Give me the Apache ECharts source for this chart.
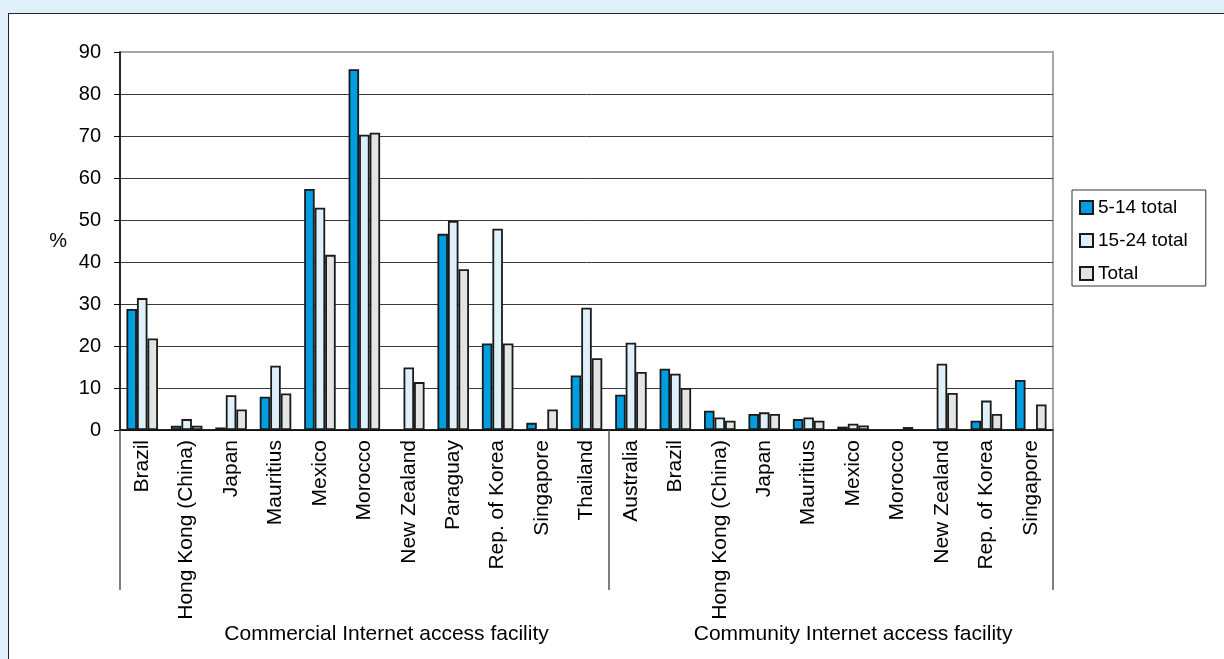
<!DOCTYPE html>
<html>
<head>
<meta charset="utf-8">
<script src="https://cdn.jsdelivr.net/npm/echarts@6/dist/echarts.min.js"></script>
<style>
  * { margin: 0; padding: 0; }
  body { background: #dff0fa; width: 1224px; height: 659px; overflow: hidden; }
  .frame {
    position: absolute; left: 8px; top: 13px;
    border-left: 1px solid #222; border-top: 1px solid #222;
    background: #fff;
  }
  #main { width: 1215px; height: 645px; }
</style>
</head>
<body>
<div class="frame"><div id="main"></div></div>
<script>
  // categories: 11 commercial + 10 community facilities
  var categories = [
    'Brazil', 'Hong Kong (China)', 'Japan', 'Mauritius', 'Mexico', 'Morocco',
    'New Zealand', 'Paraguay', 'Rep. of Korea', 'Singapore', 'Thailand',
    'Australia', 'Brazil', 'Hong Kong (China)', 'Japan', 'Mauritius', 'Mexico',
    'Morocco', 'New Zealand', 'Rep. of Korea', 'Singapore'
  ];
  var groups = ['Commercial Internet access facility', 'Community Internet access facility'];
  var yTicks = [0, 10, 20, 30, 40, 50, 60, 70, 80, 90];

  var age5to14 = [28.8, 1.0, 0.6, 7.9, 57.4, 85.9, null, 46.7, 20.6, 1.7, 13.0,
                  8.4, 14.6, 4.6, 3.8, 2.6, 0.8, null, null, 2.2, 11.9];
  var age15to24 = [31.4, 2.6, 8.3, 15.3, 52.9, 70.3, 14.9, 49.8, 47.9, null, 29.1,
                   20.8, 13.4, 3.0, 4.2, 3.0, 1.5, null, 15.8, 7.0, null];
  var total = [21.8, 1.0, 4.9, 8.7, 41.7, 70.8, 11.4, 38.3, 20.6, 4.9, 17.1,
               13.8, 10.0, 2.2, 3.8, 2.2, 1.1, 0.7, 8.8, 3.8, 6.1];

  var font = 'Liberation Sans, Arial, sans-serif';
  var chart = echarts.init(document.getElementById('main'));

  function barSeries(name, color, data) {
    return {
      name: name,
      type: 'bar',
      barGap: '0%',
      barCategoryGap: '29%',
      itemStyle: { color: color, borderColor: '#1a1a1a', borderWidth: 1.8 },
      data: data
    };
  }

  chart.setOption({
    animation: false,
    backgroundColor: '#fff',
    textStyle: { fontFamily: font, color: '#000' },
    grid: {
      left: 111, top: 38, right: 171, bottom: 229,
      show: true, borderColor: '#a6a6a6', borderWidth: 2, backgroundColor: '#fff'
    },
    legend: {
      orient: 'vertical',
      left: 1063, top: 176,
      padding: [8, 18, 3, 7],
      itemGap: 14,
      itemWidth: 13, itemHeight: 13,
      borderColor: '#333', borderWidth: 1,
      icon: 'rect',
      textStyle: { fontFamily: font, fontSize: 19, color: '#000' }
    },
    xAxis: [{
      type: 'category',
      data: categories,
      axisLine: { lineStyle: { color: '#000', width: 1.5 } },
      axisTick: { show: false },
      axisLabel: { interval: 0, rotate: 90, margin: 10, fontSize: 21, color: '#000', fontFamily: font }
    }, {
      // group separators
      type: 'category',
      position: 'bottom',
      data: categories,
      axisLine: { show: false },
      axisLabel: { show: false },
      axisTick: {
        show: true, inside: false, length: 160,
        interval: function (i) { return i === 0 || i === 11; },
        lineStyle: { color: '#555', width: 1.5 }
      }
    }, {
      // group labels
      type: 'value',
      position: 'bottom',
      min: 0, max: 21, interval: 0.5,
      axisLine: { show: false },
      axisTick: { show: false },
      splitLine: { show: false },
      axisLabel: {
        margin: 194, fontSize: 21, color: '#000', fontFamily: font,
        formatter: function (v) {
          if (v === 6) return groups[0];
          if (v === 16.5) return groups[1];
          return '';
        }
      }
    }],
    yAxis: {
      type: 'value',
      min: yTicks[0], max: yTicks[yTicks.length - 1], interval: 10,
      name: '%',
      nameLocation: 'middle',
      nameRotate: 0,
      nameGap: 53,
      nameTextStyle: { fontSize: 20, color: '#000', fontFamily: font },
      axisLine: { show: true, lineStyle: { color: '#000', width: 1.5 } },
      axisTick: { show: true, inside: false, length: 6, lineStyle: { color: '#000' } },
      axisLabel: { margin: 19, fontSize: 20, color: '#000', fontFamily: font },
      splitLine: { show: true, showMaxLine: false, lineStyle: { color: '#3a3a3a', width: 1 } }
    },
    series: [
      barSeries('5-14 total', '#009ee0', age5to14),
      barSeries('15-24 total', '#dff0fa', age15to24),
      barSeries('Total', '#e3e4e4', total)
    ]
  });
</script>
</body>
</html>
